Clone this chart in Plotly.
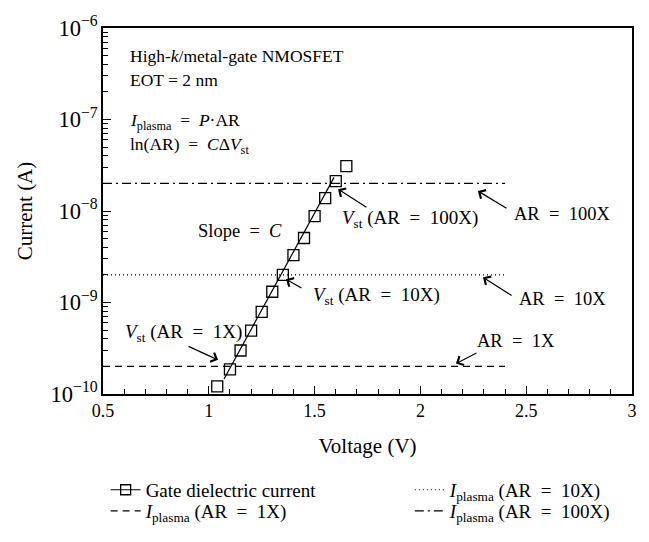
import plotly.graph_objects as go

# ---- data ----
voltage = [1.04, 1.10, 1.15, 1.20, 1.25, 1.30, 1.35, 1.40, 1.45, 1.50, 1.55, 1.60, 1.65]
current = [1.21e-10, 1.86e-10, 2.99e-10, 4.93e-10, 7.9e-10, 1.31e-9, 2.0e-9,
           3.3e-9, 5.07e-9, 8.77e-9, 1.38e-8, 2.12e-8, 3.1e-8]
fit_v = [1.072, 1.592]
fit_i = [1.46e-10, 2.33e-8]
plasma_v = [0.5, 2.4]
plasma_1x = [2e-10, 2e-10]
plasma_10x = [2e-9, 2e-9]
plasma_100x = [2e-8, 2e-8]

FONT = "Liberation Serif"
BLACK = "#000000"
EQ = "\u2002=\u2002"

fig = go.Figure()

# data markers and fit line (no legend)
fig.add_trace(go.Scatter(x=fit_v, y=fit_i, mode="lines",
                         line=dict(color=BLACK, width=1.2), showlegend=False))
fig.add_trace(go.Scatter(x=voltage, y=current, mode="markers",
                         marker=dict(symbol="square-open", size=11, color=BLACK,
                                     line=dict(width=1.3, color=BLACK)),
                         showlegend=False))
# legend-only entry for the gate current (line + square)
fig.add_trace(go.Scatter(x=[None], y=[None], mode="lines+markers",
                         line=dict(color=BLACK, width=1.2),
                         marker=dict(symbol="square-open", size=10, color=BLACK,
                                     line=dict(width=1.3, color=BLACK)),
                         name="Gate dielectric current", legend="legend"))
# horizontal plasma lines
fig.add_trace(go.Scatter(x=plasma_v, y=plasma_1x, mode="lines",
                         line=dict(color=BLACK, width=1.2, dash="7px,5px"),
                         name="<i>I</i><sub>plasma</sub> (AR" + EQ + "1X)", legend="legend3"))
fig.add_trace(go.Scatter(x=plasma_v, y=plasma_10x, mode="lines",
                         line=dict(color=BLACK, width=1.2, dash="1px,3px"),
                         name="<i>I</i><sub>plasma</sub> (AR" + EQ + "10X)", legend="legend2"))
fig.add_trace(go.Scatter(x=plasma_v, y=plasma_100x, mode="lines",
                         line=dict(color=BLACK, width=1.2, dash="9px,4px,2px,4px"),
                         name="<i>I</i><sub>plasma</sub> (AR" + EQ + "100X)", legend="legend4"))

# text annotations (x in data, y in log10 units, font size)
texts = [
    (0.62, -6.311, "High-<i>k</i>/metal-gate NMOSFET", 17.5),
    (0.62, -6.570, "EOT = 2 nm", 17.5),
    (0.62, -7.020, "<i>I</i><sub>plasma</sub>" + EQ + "<i>P</i>·AR", 17.5),
    (0.62, -7.280, "ln(AR)" + EQ + "<i>C</i>Δ<i>V</i><sub>st</sub>", 17.5),
    (0.9395, -8.218, "Slope" + EQ + "<i>C</i>", 18.5),
    (1.620, -8.083, "<i>V</i><sub>st</sub> (AR" + EQ + "100X)", 19),
    (2.433, -8.031, "AR" + EQ + "100X", 18.5),
    (1.483, -8.933, "<i>V</i><sub>st</sub> (AR" + EQ + "10X)", 19),
    (2.457, -8.964, "AR" + EQ + "10X", 18.5),
    (0.5945, -9.337, "<i>V</i><sub>st</sub> (AR" + EQ + "1X)", 19),
    (2.258, -9.420, "AR" + EQ + "1X", 18.5),
]
for x, y, t, s in texts:
    fig.add_annotation(x=x, y=y, text=t, showarrow=False, xanchor="left",
                       yanchor="middle", font=dict(family=FONT, size=s, color=BLACK))

arrows = [  # (head_x, head_y, tail_x, tail_y)
    (1.0435, -9.627, 0.897, -9.472),
    (2.168, -9.668, 2.272, -9.544),
    (1.365, -8.746, 1.445, -8.850),
    (2.296, -8.725, 2.438, -8.933),
    (1.611, -7.762, 1.752, -7.969),
    (2.272, -7.782, 2.414, -7.979),
]
for hx, hy, tx, ty in arrows:
    fig.add_annotation(x=hx, y=hy, ax=tx, ay=ty, axref="x", ayref="y",
                       text="", showarrow=True, arrowhead=4, arrowsize=1.6,
                       arrowwidth=1.2, arrowcolor=BLACK)

legend_common = dict(orientation="v", xanchor="left", yanchor="middle",
                     font=dict(family=FONT, size=19, color=BLACK),
                     bgcolor="rgba(0,0,0,0)", tracegroupgap=0, itemwidth=30)
row1, row2 = -0.262, -0.320
col1, col2 = 0.005, 0.58

fig.update_layout(
    width=649, height=542,
    margin=dict(l=103, r=17, t=12, b=144),
    plot_bgcolor="white", paper_bgcolor="white",
    font=dict(family=FONT, size=18, color=BLACK),
    legend=dict(x=col1, y=row1, **legend_common),
    legend2=dict(x=col2, y=row1, **legend_common),
    legend3=dict(x=col1, y=row2, **legend_common),
    legend4=dict(x=col2, y=row2, **legend_common),
    xaxis=dict(range=[0.5, 3], dtick=0.5, tick0=0.5, showgrid=False, zeroline=False,
               showline=True, linecolor=BLACK, linewidth=1.5, mirror=True,
               ticks="inside", ticklen=8, tickwidth=1.2, tickcolor=BLACK,
               ticklabeloverflow="allow",
               minor=dict(dtick=0.1, ticks="inside", ticklen=5, tickwidth=1.2,
                          tickcolor=BLACK, showgrid=False),
               title=dict(text="Voltage (V)", standoff=18,
                          font=dict(family=FONT, size=21)),
               tickfont=dict(family=FONT, size=18)),
    yaxis=dict(type="log", range=[-10, -6], dtick=1, showgrid=False, zeroline=False,
               exponentformat="power", showexponent="all",
               showline=True, linecolor=BLACK, linewidth=1.5, mirror=True,
               ticks="inside", ticklen=8, tickwidth=1.2, tickcolor=BLACK,
               ticklabeloverflow="allow",
               minor=dict(ticks="inside", ticklen=5, tickwidth=1.2, tickcolor=BLACK,
                          showgrid=False),
               title=dict(text="Current (A)", standoff=12,
                          font=dict(family=FONT, size=21)),
               tickfont=dict(family=FONT, size=18)),
)

fig.write_html("out.html", config={"displayModeBar": False},
               post_script="document.body.style.margin='0';")
